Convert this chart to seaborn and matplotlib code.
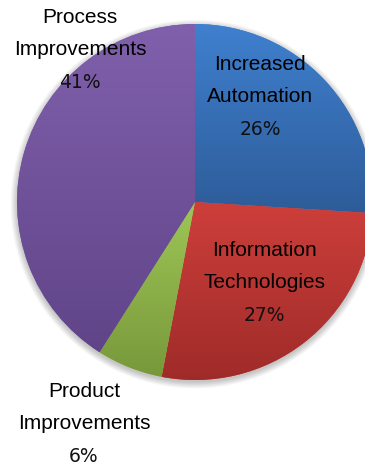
import numpy as np
import matplotlib
matplotlib.use("Agg")
import matplotlib.pyplot as plt
import matplotlib.patches as mpatches
from matplotlib.colors import LinearSegmentedColormap
import seaborn as sns

# Share of improvement sources, clockwise from 12 o'clock
categories = ["Increased\nAutomation", "Information\nTechnologies",
              "Product\nImprovements", "Process\nImprovements"]
shares = [26, 27, 6, 41]

# Top (light) and bottom (dark) colour of each slice's vertical gradient
top_colors = ["#3F80CF", "#CD3F3B", "#9EC657", "#8060AC"]
bottom_colors = ["#2E5C99", "#9F2B29", "#78983A", "#604488"]

# Label anchors in axes data units (pie radius = 1): midpoint of the two name lines
label_xy = [(0.365, 0.685), (0.388, -0.365), (-0.624, -1.154), (-0.646, 0.949)]

sns.set_theme(style="white")
plt.rcParams["font.family"] = ["Liberation Sans", "DejaVu Sans"]

fig = plt.figure(figsize=(3.65, 4.70), dpi=100)
ax = fig.add_axes([0, 0, 1, 1])
ax.axis("off")

# soft shadow under the pie
for i in range(10):
    r = 1.0 + 0.004 * i
    ax.add_patch(mpatches.Circle((0.0, -0.012), r, color="black",
                                 alpha=0.025, lw=0, zorder=0))

wedges, _ = ax.pie(shares, startangle=90, counterclock=False, radius=1.0,
                   colors=top_colors, wedgeprops=dict(linewidth=0))

for w, c0, c1 in zip(wedges, top_colors, bottom_colors):
    w.set_zorder(1)
    # vertical extent of this slice
    th = np.radians(np.linspace(w.theta1, w.theta2, 200))
    ys = np.concatenate([[0.0], np.sin(th)])
    y_top, y_bot = ys.max(), ys.min()
    cmap = LinearSegmentedColormap.from_list("g", [c1, c0])
    grad = np.linspace(0, 1, 256).reshape(-1, 1)
    im = ax.imshow(grad, cmap=cmap, origin="lower", aspect="auto",
                   extent=(-1.02, 1.02, y_bot, y_top), zorder=2,
                   interpolation="bicubic")
    im.set_clip_path(w)

ax.set_xlim(-195 / 178, (365 - 195) / 178)
ax.set_ylim(-268 / 178, 202 / 178)

for name, val, (x, y) in zip(categories, shares, label_xy):
    lines = name.split("\n")
    ax.text(x, y + 0.09, lines[0], ha="center", va="center",
            fontsize=15, color="black", zorder=5)
    ax.text(x, y - 0.09, lines[1], ha="center", va="center",
            fontsize=15, color="black", zorder=5)
    ax.text(x, y - 0.275, f"{val}%", ha="center", va="center",
            fontsize=13.5, family="DejaVu Sans", color="#111111", zorder=5)

fig.savefig("out.png", dpi=100)
